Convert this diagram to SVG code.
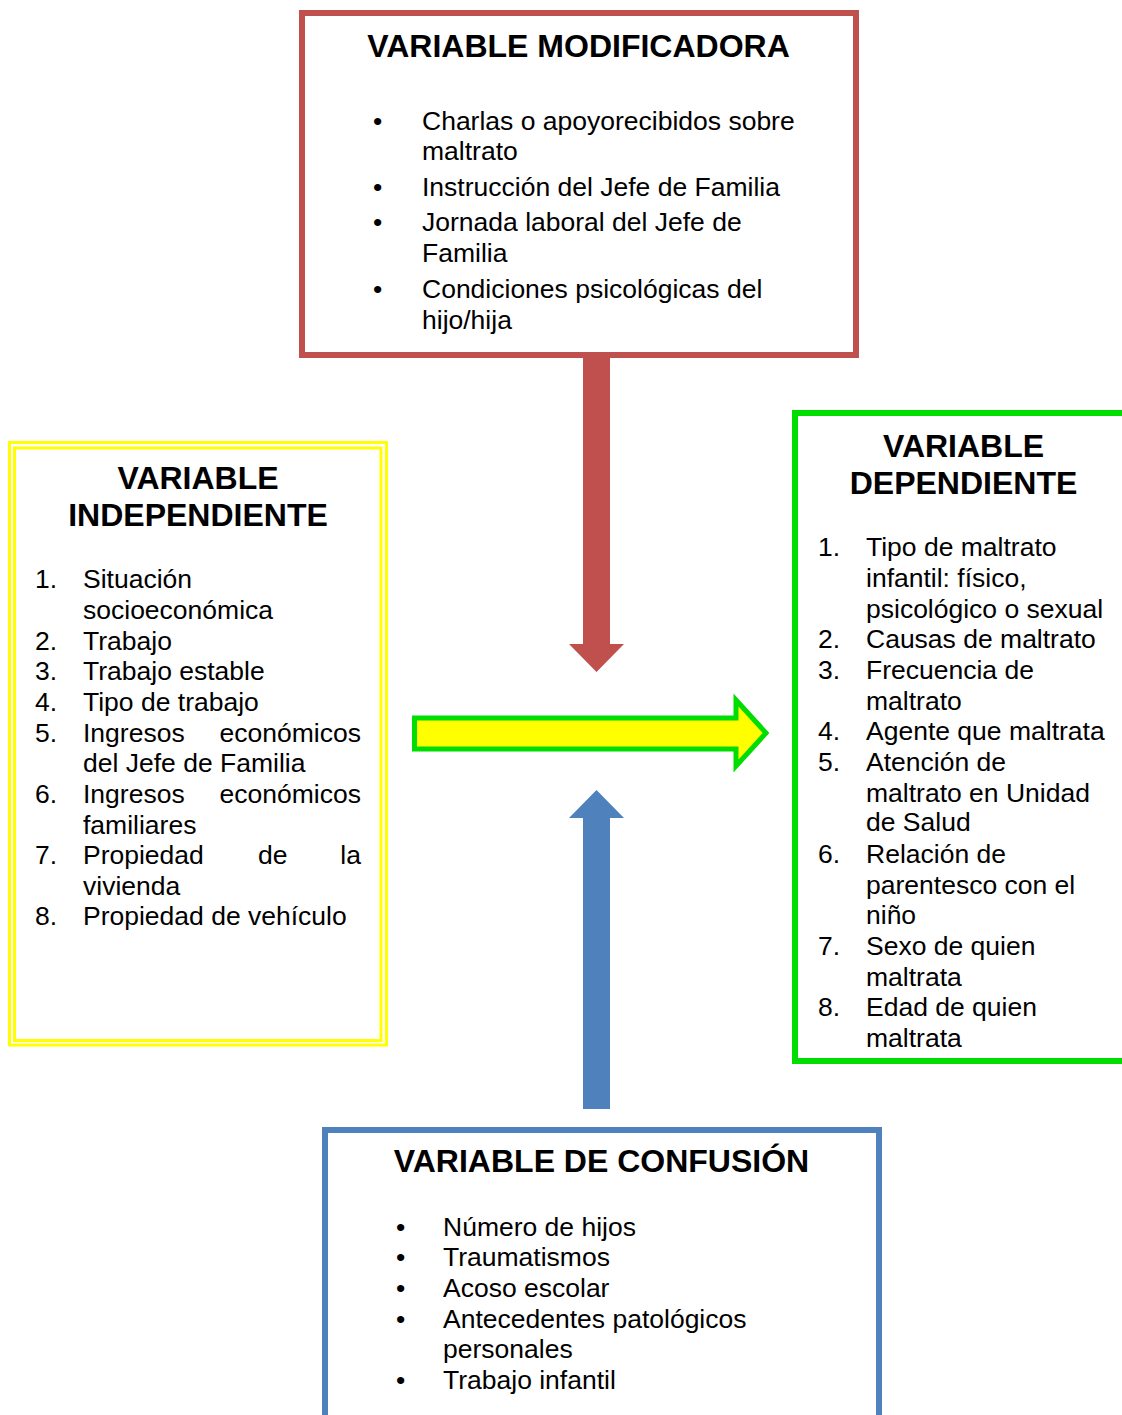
<svg xmlns="http://www.w3.org/2000/svg" width="1122" height="1415" viewBox="0 0 1122 1415">
<style>
.t{font-family:"Liberation Sans",Arial,sans-serif;font-weight:bold;font-size:32px;fill:#000;text-anchor:middle}
.b{font-family:"Liberation Sans",Arial,sans-serif;font-size:26.5px;fill:#000}
.e{text-anchor:end}
.box{fill:#fff}
</style>
<rect width="1122" height="1415" fill="#fff"/>
<g id="connectors">
  <path id="arrow-mod" d="M583,355 H610 V644 H624 L596.5,672 L569,644 H583 Z" fill="#C0504D"/>
  <path id="arrow-conf" d="M583,1109 H610 V818 H624 L596.5,790 L569,818 H583 Z" fill="#4F81BD"/>
  <path id="arrow-main" d="M414.5,718 H736 V700 L766,733 L736,766 V749 H414.5 Z" fill="#FFFF00" stroke="#00DD00" stroke-width="5"/>
</g>
<g id="node-modificadora">
  <rect class="box" x="302" y="13" width="554" height="342" stroke="#C0504D" stroke-width="6"/>
  <text class="t" x="578.5" y="56.5">VARIABLE MODIFICADORA</text>
  <text class="b" x="373" y="130">•</text>
  <text class="b" x="422" y="130">Charlas o apoyorecibidos sobre</text>
  <text class="b" x="422" y="160">maltrato</text>
  <text class="b" x="373" y="196">•</text>
  <text class="b" x="422" y="196">Instrucción del Jefe de Familia</text>
  <text class="b" x="373" y="231">•</text>
  <text class="b" x="422" y="231">Jornada laboral del Jefe de</text>
  <text class="b" x="422" y="262">Familia</text>
  <text class="b" x="373" y="298">•</text>
  <text class="b" x="422" y="298">Condiciones psicológicas del</text>
  <text class="b" x="422" y="329">hijo/hija</text>
</g>
<g id="node-independiente">
  <rect class="box" x="9.5" y="442.5" width="377" height="602.5" fill="none" stroke="#FFFF00" stroke-width="3"/>
  <rect x="14.5" y="448" width="366.5" height="592.5" fill="none" stroke="#FFFF00" stroke-width="3"/>
  <text class="t" x="198" y="489">VARIABLE</text>
  <text class="t" x="198" y="526">INDEPENDIENTE</text>
  <text class="b" x="35" y="588">1.</text>
  <text class="b" x="83" y="588">Situación</text>
  <text class="b" x="83" y="619">socioeconómica</text>
  <text class="b" x="35" y="650">2.</text>
  <text class="b" x="83" y="650">Trabajo</text>
  <text class="b" x="35" y="680">3.</text>
  <text class="b" x="83" y="680">Trabajo estable</text>
  <text class="b" x="35" y="711">4.</text>
  <text class="b" x="83" y="711">Tipo de trabajo</text>
  <text class="b" x="35" y="742">5.</text>
  <text class="b" x="83" y="742">Ingresos</text>
  <text class="b e" x="361" y="742">económicos</text>
  <text class="b" x="83" y="772">del Jefe de Familia</text>
  <text class="b" x="35" y="803">6.</text>
  <text class="b" x="83" y="803">Ingresos</text>
  <text class="b e" x="361" y="803">económicos</text>
  <text class="b" x="83" y="834">familiares</text>
  <text class="b" x="35" y="864">7.</text>
  <text class="b" x="83" y="864">Propiedad</text>
  <text class="b" x="258" y="864">de</text>
  <text class="b e" x="361" y="864">la</text>
  <text class="b" x="83" y="895">vivienda</text>
  <text class="b" x="35" y="925">8.</text>
  <text class="b" x="83" y="925">Propiedad de vehículo</text>
</g>
<g id="node-dependiente">
  <rect class="box" x="795" y="413" width="340" height="648" stroke="#00DD00" stroke-width="6"/>
  <text class="t" x="963.5" y="457">VARIABLE</text>
  <text class="t" x="963.5" y="494">DEPENDIENTE</text>
  <text class="b" x="818" y="556">1.</text>
  <text class="b" x="866" y="556">Tipo de maltrato</text>
  <text class="b" x="866" y="587">infantil: físico,</text>
  <text class="b" x="866" y="618">psicológico o sexual</text>
  <text class="b" x="818" y="648">2.</text>
  <text class="b" x="866" y="648">Causas de maltrato</text>
  <text class="b" x="818" y="679">3.</text>
  <text class="b" x="866" y="679">Frecuencia de</text>
  <text class="b" x="866" y="710">maltrato</text>
  <text class="b" x="818" y="740">4.</text>
  <text class="b" x="866" y="740">Agente que maltrata</text>
  <text class="b" x="818" y="771">5.</text>
  <text class="b" x="866" y="771">Atención de</text>
  <text class="b" x="866" y="802">maltrato en Unidad</text>
  <text class="b" x="866" y="831">de Salud</text>
  <text class="b" x="818" y="863">6.</text>
  <text class="b" x="866" y="863">Relación de</text>
  <text class="b" x="866" y="894">parentesco con el</text>
  <text class="b" x="866" y="924">niño</text>
  <text class="b" x="818" y="955">7.</text>
  <text class="b" x="866" y="955">Sexo de quien</text>
  <text class="b" x="866" y="986">maltrata</text>
  <text class="b" x="818" y="1016">8.</text>
  <text class="b" x="866" y="1016">Edad de quien</text>
  <text class="b" x="866" y="1047">maltrata</text>
</g>
<g id="node-confusion">
  <rect class="box" x="325" y="1130" width="554" height="300" stroke="#4F81BD" stroke-width="6"/>
  <text class="t" x="601.5" y="1172">VARIABLE DE CONFUSIÓN</text>
  <text class="b" x="396" y="1236">•</text>
  <text class="b" x="443" y="1236">Número de hijos</text>
  <text class="b" x="396" y="1266">•</text>
  <text class="b" x="443" y="1266">Traumatismos</text>
  <text class="b" x="396" y="1297">•</text>
  <text class="b" x="443" y="1297">Acoso escolar</text>
  <text class="b" x="396" y="1328">•</text>
  <text class="b" x="443" y="1328">Antecedentes patológicos</text>
  <text class="b" x="443" y="1358">personales</text>
  <text class="b" x="396" y="1389">•</text>
  <text class="b" x="443" y="1389">Trabajo infantil</text>
</g>
</svg>
